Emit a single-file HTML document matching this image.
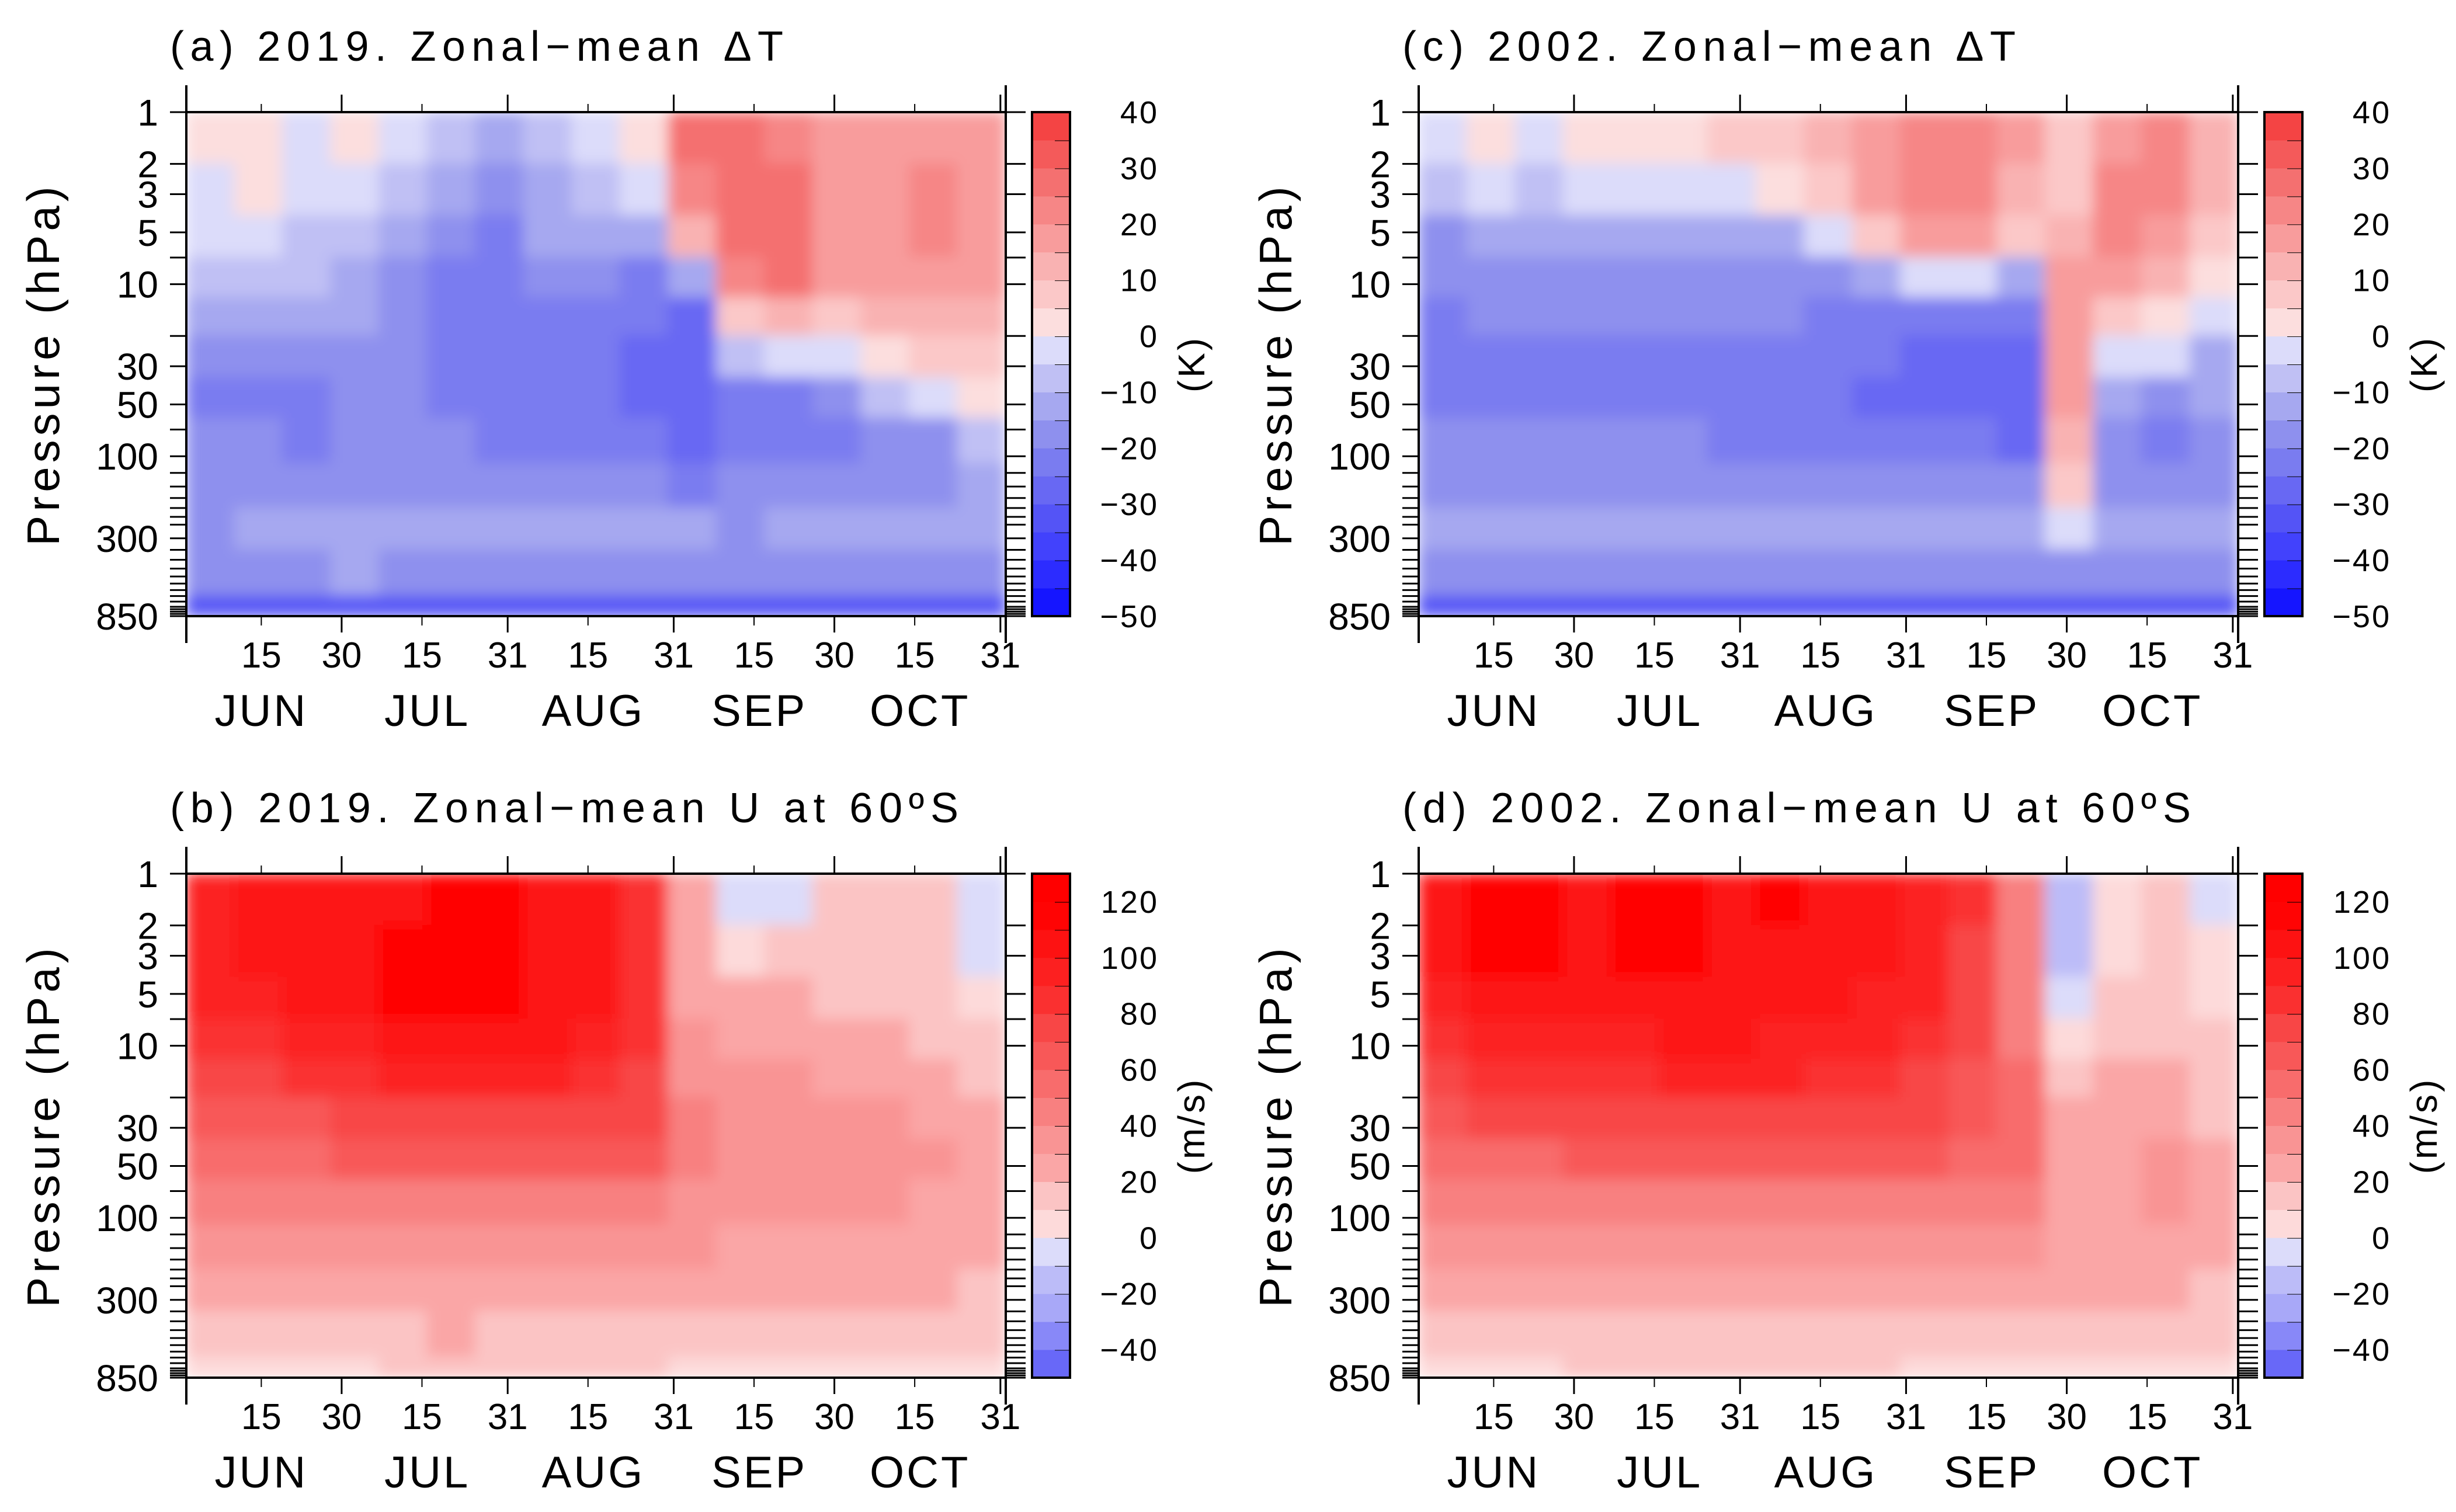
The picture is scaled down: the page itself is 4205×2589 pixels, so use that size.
<!DOCTYPE html>
<html><head><meta charset="utf-8"><style>
html,body{margin:0;padding:0;background:#fff;}
svg{display:block;font-family:"Liberation Sans",sans-serif;}
</style></head><body>
<svg id="fig" width="4205" height="2589" viewBox="0 0 4205 2589" xmlns="http://www.w3.org/2000/svg">
<rect width="4205" height="2589" fill="#fff"/>
<defs>
<filter id="soft" x="0" y="0" width="1" height="1" filterUnits="objectBoundingBox"><feGaussianBlur stdDeviation="12" edgeMode="duplicate"/></filter>
</defs>
</svg>
<script>
// pressure-layer edges (hPa) and day-column edges
const pressureEdges=[1,2,4,7,12,20,35,60,110,200,350,650,850];
const dayStep=9; // 17 columns of 9 days from Jun 1
const monthNames=["JUN","JUL","AUG","SEP","OCT"];
const dayTickLabels=["15","30","15","31","15","31","15","30","15","31"];
const dayTickDays=[14,29,44,60,75,91,106,121,136,152];
const majorTickDays=[0,29,60,91,121,152];
const monthMidDays=[14,45,76,107,137];
const pressureLabels=[1,2,3,5,10,30,50,100,300,850];
const pressureLevels=[1,2,3,5,7,10,20,30,50,70,100,125,150,175,200,225,250,300,350,400,450,500,550,600,650,700,750,775,800,825,850];
const tTicks=[40,30,20,10,0,-10,-20,-30,-40,-50];
const uTicks=[120,100,80,60,40,20,0,-20,-40];

const dT2019=[
[2,3,-3,2,-5,-8,-12,-10,-3,3,25,25,20,18,15,18,15],
[-3,2,-5,-3,-10,-15,-18,-12,-8,-5,20,25,25,18,18,20,18],
[-5,-5,-8,-8,-15,-20,-22,-15,-15,-12,10,25,28,18,18,20,18],
[-10,-8,-10,-12,-18,-22,-22,-20,-20,-22,-15,20,25,15,15,18,15],
[-15,-15,-15,-15,-20,-22,-22,-22,-22,-25,-27,5,10,8,10,12,10],
[-20,-20,-20,-20,-20,-22,-22,-22,-23,-26,-27,-10,-5,-5,3,5,8],
[-22,-22,-22,-20,-20,-22,-22,-23,-23,-26,-27,-22,-22,-20,-10,-5,3],
[-20,-20,-22,-20,-20,-20,-22,-22,-22,-23,-26,-23,-22,-22,-20,-17,-10],
[-17,-20,-17,-17,-17,-17,-17,-17,-17,-20,-22,-20,-20,-17,-17,-17,-12],
[-16,-13,-13,-11,-13,-11,-11,-11,-11,-13,-13,-16,-13,-13,-13,-13,-13],
[-16,-16,-16,-13,-16,-16,-16,-16,-16,-16,-16,-16,-16,-16,-16,-16,-16],
[-33,-33,-33,-33,-33,-33,-33,-33,-33,-33,-33,-33,-33,-33,-33,-33,-33]];
const dT2002=[
[-5,3,-3,3,3,2,5,5,10,15,20,20,15,5,15,20,10],
[-10,-5,-8,-3,-5,-3,-5,0,5,15,20,20,10,5,20,20,10],
[-16,-13,-13,-13,-13,-13,-13,-11,-5,5,15,15,5,10,20,15,5],
[-20,-17,-17,-17,-20,-17,-17,-17,-17,-11,-5,-5,-11,15,15,10,0],
[-22,-20,-20,-20,-20,-20,-20,-20,-22,-22,-22,-22,-22,15,5,0,-5],
[-22,-22,-22,-22,-22,-22,-23,-23,-23,-23,-26,-26,-26,15,-5,-5,-11],
[-22,-22,-22,-22,-22,-22,-23,-23,-23,-26,-26,-28,-28,15,-11,-16,-11],
[-20,-20,-20,-20,-20,-20,-22,-22,-22,-22,-23,-23,-26,10,-20,-23,-16],
[-17,-17,-17,-17,-17,-17,-17,-17,-20,-20,-20,-20,-20,5,-17,-20,-17],
[-13,-11,-11,-13,-13,-13,-13,-11,-11,-11,-13,-11,-11,-5,-13,-13,-13],
[-16,-16,-16,-16,-16,-16,-16,-16,-16,-16,-16,-16,-16,-16,-16,-16,-16],
[-33,-33,-33,-33,-33,-33,-33,-33,-33,-33,-33,-33,-33,-33,-33,-33,-33]];
const u2019=[
[95,100,100,105,105,110,110,105,100,80,20,-5,-5,10,15,15,-5],
[95,100,105,105,110,110,110,105,100,80,20,5,10,15,15,15,-3],
[90,95,100,105,110,110,110,105,100,80,25,20,20,15,15,15,5],
[80,85,90,95,100,100,100,100,95,80,30,25,25,20,20,15,10],
[70,75,80,85,90,90,90,90,85,75,35,30,30,25,25,20,15],
[60,65,65,70,75,75,75,75,75,70,40,35,35,30,30,25,20],
[50,55,55,60,60,60,60,60,60,60,40,35,35,35,32,30,22],
[40,45,45,45,48,48,48,48,48,45,35,30,32,32,30,28,22],
[30,32,32,32,35,35,35,35,35,32,30,25,28,28,25,25,20],
[22,25,22,25,28,28,28,28,28,25,25,22,22,22,22,20,18],
[15,15,15,18,18,20,18,18,18,18,15,15,15,15,15,15,15],
[8,8,8,8,10,10,10,10,10,10,8,8,8,8,8,8,8]];
const u2002=[
[100,110,110,105,110,110,105,110,100,100,90,80,40,-15,5,10,-5],
[100,110,110,105,110,110,105,105,100,100,90,75,40,-20,5,10,0],
[95,105,105,100,105,105,105,100,100,95,90,70,40,-10,10,10,5],
[85,95,95,95,95,100,100,95,95,90,85,70,45,5,15,15,10],
[75,80,85,85,85,90,90,90,85,85,75,65,50,15,20,20,15],
[65,70,70,70,75,75,75,75,75,75,70,60,50,20,25,25,18],
[55,55,55,60,60,60,60,60,60,60,60,55,50,25,28,30,22],
[42,45,45,45,45,48,48,48,48,48,48,45,45,25,28,30,22],
[30,32,32,32,35,35,35,35,35,35,38,38,38,22,25,25,20],
[22,22,22,25,25,25,25,28,28,28,28,28,28,20,20,20,18],
[15,15,15,18,18,18,18,18,18,18,18,18,15,15,15,15,15],
[8,8,8,10,10,10,10,10,10,10,8,8,8,8,8,8,8]];

const tColors=["#1515ff","#2c2cff","#4242fc","#5454f6","#6868f3","#7a7cf0","#8e90ee","#a6a8f0","#c0c0f4","#dcdcfa","#fcdede","#fbc8c8","#f9b2b2","#f89c9c","#f68686","#f47070","#f45a5a","#f44444"];
const uColors=["#6868f8","#8888f8","#a8a8f8","#bcbcf8","#dcdcfa","#fddada","#fbc4c4","#faa6a6","#f99494","#f88080","#f86c6c","#f85858","#f84646","#fa3030","#fc2020","#fd1212","#ff0404","#ff0000"];

const svg=document.getElementById('fig');
const NS="http://www.w3.org/2000/svg";
function mk(tag,attrs,parent){const e=document.createElementNS(NS,tag);for(const k in attrs)e.setAttribute(k,attrs[k]);(parent||svg).appendChild(e);return e;}

function drawPanel(P){
  const xs=d=>P.x0+d/153*(P.x1-P.x0);
  const yp=p=>P.y0+Math.log10(p)/Math.log10(850)*(P.y1-P.y0);
  const g=mk('g',{});
  
  
  const cid='clip-'+P.name;
  const cp=mk('clipPath',{id:cid},g);
  mk('rect',{x:P.x0,y:P.y0,width:P.x1-P.x0,height:P.y1-P.y0},cp);
  const clipG=mk('g',{'clip-path':'url(#'+cid+')'},g);
  const field=mk('g',{filter:'url(#soft)'},clipG);
  
  
  P.data.forEach((row,r)=>{
    row.forEach((v,c)=>{
      const x=xs(c*dayStep),x2=xs((c+1)*dayStep);
      const y=yp(pressureEdges[r]),y2=yp(pressureEdges[r+1]);
      let bi=Math.floor((v-P.vmin)/P.step);bi=Math.max(0,Math.min(P.colors.length-1,bi));
      const cell=mk('rect',{x:x-1,y:y-1,width:x2-x+2,height:y2-y+2,fill:P.colors[bi]},field);
      
      
    });
  });
  const fr=mk('rect',{x:P.x0,y:P.y0,width:P.x1-P.x0,height:P.y1-P.y0,fill:'none',stroke:'#000','stroke-width':4},g);
  
  
  pressureLevels.forEach(p=>{
    const y=yp(p);
    mk('line',{x1:P.x0-28,x2:P.x0,y1:y,y2:y,stroke:'#000','stroke-width':3},g);
    mk('line',{x1:P.x1,x2:P.x1+34,y1:y,y2:y,stroke:'#000','stroke-width':3},g);
  });
  pressureLabels.forEach(p=>{
    const t=mk('text',{x:P.x0-48,y:yp(p)+23,'font-size':64,'text-anchor':'end',fill:'#000'},g);
    t.textContent=p;
    
    
  });
  mk('line',{x1:P.x0,x2:P.x0,y1:P.y0-46,y2:P.y1+46,stroke:'#000','stroke-width':4},g);
  mk('line',{x1:P.x1,x2:P.x1,y1:P.y0-46,y2:P.y1+46,stroke:'#000','stroke-width':4},g);
  majorTickDays.forEach(d=>{
    mk('line',{x1:xs(d),x2:xs(d),y1:P.y0-30,y2:P.y0,stroke:'#000','stroke-width':3},g);
    mk('line',{x1:xs(d),x2:xs(d),y1:P.y1,y2:P.y1+28,stroke:'#000','stroke-width':3},g);
  });
  dayTickDays.forEach((d,i)=>{
    mk('line',{x1:xs(d),x2:xs(d),y1:P.y0-14,y2:P.y0,stroke:'#000','stroke-width':2},g);
    mk('line',{x1:xs(d),x2:xs(d),y1:P.y1,y2:P.y1+16,stroke:'#000','stroke-width':2},g);
    const t=mk('text',{x:xs(d),y:P.y1+88,'font-size':62,'text-anchor':'middle',fill:'#000'},g);
    t.textContent=dayTickLabels[i];
    
    
  });
  monthMidDays.forEach((d,i)=>{
    const t=mk('text',{x:xs(d),y:P.y1+188,'font-size':76,'text-anchor':'middle',fill:'#000','letter-spacing':4},g);
    t.textContent=monthNames[i];
    
    
  });
  const cy=(P.y0+P.y1)/2, ax=P.x0-218;
  const yt=mk('text',{x:ax,y:cy,'font-size':78,'text-anchor':'middle',transform:`rotate(-90 ${ax} ${cy})`,fill:'#000','letter-spacing':7},g);
  yt.textContent='Pressure (hPa)';
  
  
  const tt=mk('text',{x:P.x0-28,y:P.y0-88,'font-size':72,fill:'#000',textLength:P.titleLen,lengthAdjust:'spacing'},g);
  tt.textContent=P.title;
  
  
  const cb=mk('g',{},g);
  
  
  const cx0=P.x1+45,cx1=P.x1+110,n=P.colors.length,bh=(P.y1-P.y0)/n;
  P.colors.forEach((c,i)=>{
    mk('rect',{x:cx0,y:P.y1-(i+1)*bh-0.5,width:cx1-cx0,height:bh+1,fill:c},cb);
    mk('line',{x1:cx1-26,x2:cx1,y1:P.y1-(i+1)*bh,y2:P.y1-(i+1)*bh,stroke:'#000','stroke-width':3},cb);
  });
  mk('rect',{x:cx0,y:P.y0,width:cx1-cx0,height:P.y1-P.y0,fill:'none',stroke:'#000','stroke-width':4},cb);
  const vy=v=>P.y1-(v-P.vmin)/(P.step*n)*(P.y1-P.y0);
  P.ticks.forEach(v=>{
    const t=mk('text',{x:P.x1+262,y:vy(v)+19,'font-size':54,'text-anchor':'end',fill:'#000','letter-spacing':3},cb);
    t.textContent=(v<0?'\u2212':'')+Math.abs(v);
    
    
  });
  const ux=P.x1+340;
  const ut=mk('text',{x:ux,y:cy,'font-size':64,'text-anchor':'middle',transform:`rotate(-90 ${ux} ${cy})`,fill:'#000','letter-spacing':4},cb);
  ut.textContent=P.unit;
  
  
}

drawPanel({name:'panel-a',x0:319,x1:1722,y0:192,y1:1055,data:dT2019,colors:tColors,vmin:-50,step:5,ticks:tTicks,unit:'(K)',title:'(a) 2019. Zonal\u2212mean \u0394T',titleLen:1050});
drawPanel({name:'panel-c',x0:2429,x1:3832,y0:192,y1:1055,data:dT2002,colors:tColors,vmin:-50,step:5,ticks:tTicks,unit:'(K)',title:'(c) 2002. Zonal\u2212mean \u0394T',titleLen:1050});
drawPanel({name:'panel-b',x0:319,x1:1722,y0:1496,y1:2359,data:u2019,colors:uColors,vmin:-50,step:10,ticks:uTicks,unit:'(m/s)',title:'(b) 2019. Zonal\u2212mean U at 60\u00baS',titleLen:1350});
drawPanel({name:'panel-d',x0:2429,x1:3832,y0:1496,y1:2359,data:u2002,colors:uColors,vmin:-50,step:10,ticks:uTicks,unit:'(m/s)',title:'(d) 2002. Zonal\u2212mean U at 60\u00baS',titleLen:1350});
</script>
</body></html>
